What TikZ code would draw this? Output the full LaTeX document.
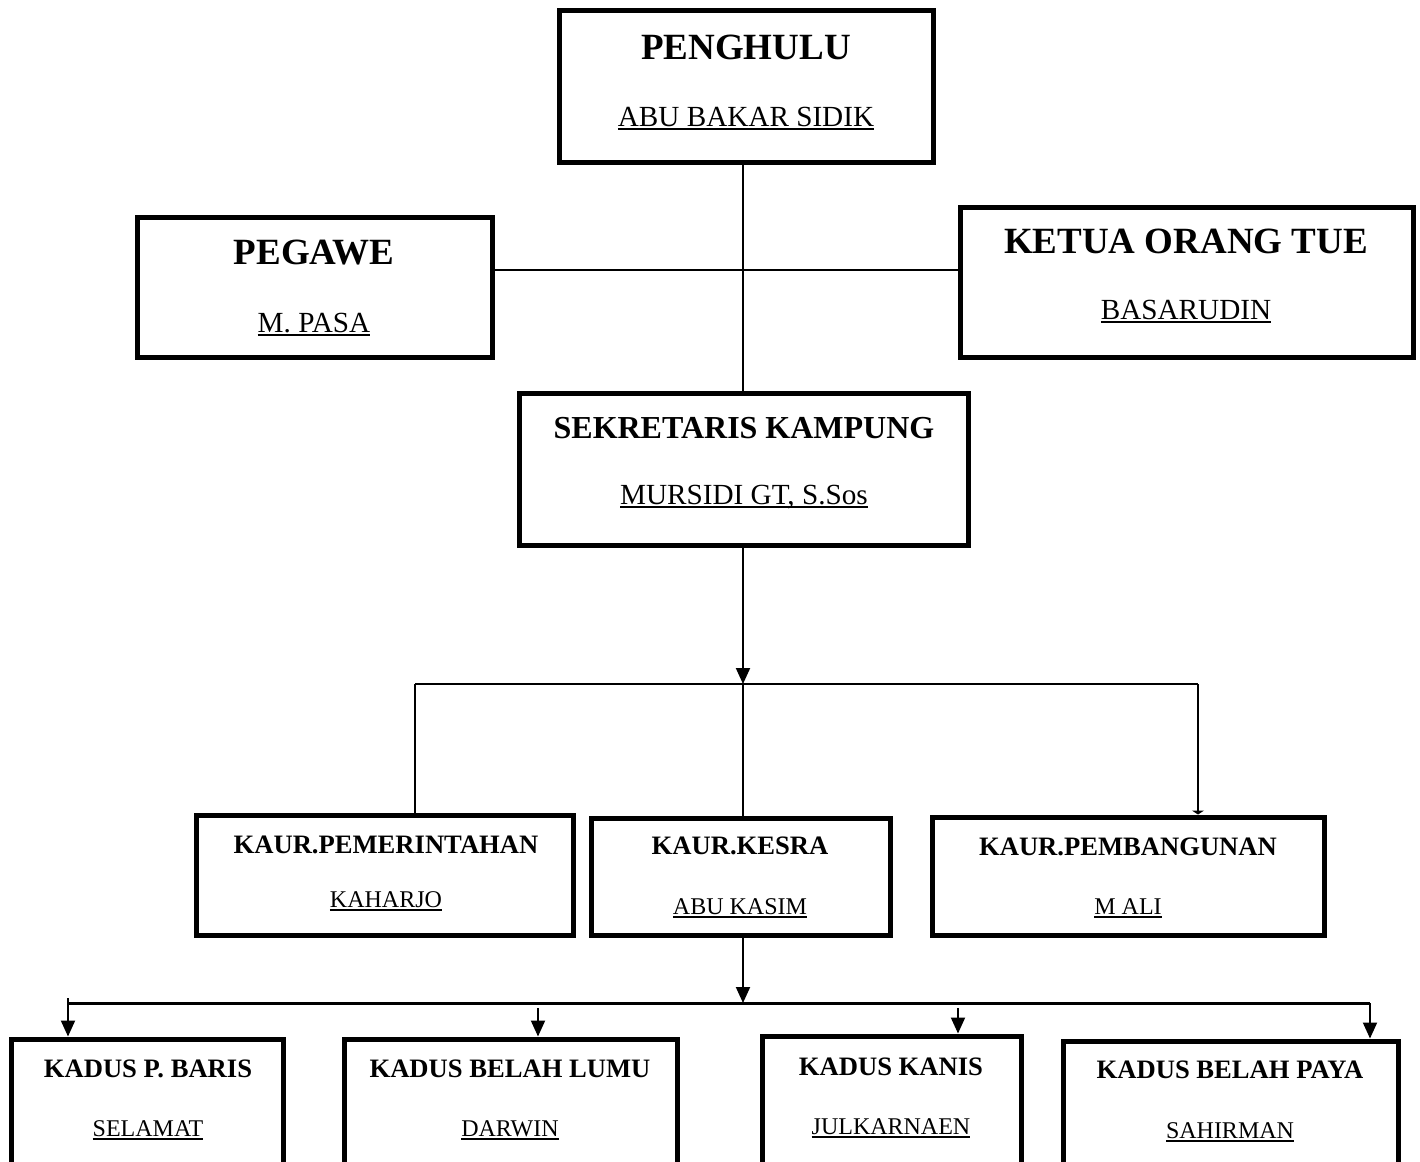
\documentclass[tikz,border=0pt]{standalone}
\usepackage{fontspec}
\setmainfont{Liberation Serif}
\usetikzlibrary{arrows.meta,fit}
\newcommand{\undername}[1]{\setbox0\hbox{#1}\rlap{\rule[-2pt]{\wd0}{1pt}}\box0}

\begin{document}
\begin{tikzpicture}[x=0.5pt,y=-0.5pt,
    unitbox/.style={draw,line width=2.5pt,inner sep=0pt},
    toptitle/.style={anchor=base,inner sep=0pt,font=\fontsize{18.5}{20}\selectfont\bfseries},
    midtitle/.style={anchor=base,inner sep=0pt,font=\fontsize{16}{18}\selectfont\bfseries},
    lowtitle/.style={anchor=base,inner sep=0pt,font=\fontsize{13.3}{15}\selectfont\bfseries},
    topname/.style={anchor=base,inner sep=0pt,font=\fontsize{14.6}{16}\selectfont},
    lowname/.style={anchor=base,inner sep=0pt,font=\fontsize{12}{14}\selectfont},
    link/.style={line width=1pt},
    bus/.style={line width=1.5pt},
    arrowlink/.style={line width=1pt,-{Triangle[length=8pt,width=7pt]}},
    smalltip/.style={line width=1pt,-{Triangle[length=2pt,width=6pt]}}]
    \useasboundingbox (0,0) rectangle (1420,1162);
    \clip (0,0) rectangle (1420,1162);
    % top level
    \node [unitbox,fit={(559,10) (933,162)}] (peng) {};
    \node [toptitle] (peng-t) at (746,59) {PENGHULU};
    \node [topname] (peng-n) at (746,126) {\undername{ABU BAKAR SIDIK}};
    \node [unitbox,fit={(137,217) (492,357)}] (pegawe) {};
    \node [toptitle] (pegawe-t) at (314,264) {PEGAWE};
    \node [topname] (pegawe-n) at (314,332) {\undername{M. PASA}};
    \node [unitbox,fit={(960,207) (1413,357)}] (ketua) {};
    \node [toptitle] (ketua-t) at (1186,253) {KETUA ORANG TUE};
    \node [topname] (ketua-n) at (1186,319) {\undername{BASARUDIN}};
    \node [unitbox,fit={(519,393) (968,545)}] (sekr) {};
    \node [midtitle] (sekr-t) at (744,438) {SEKRETARIS KAMPUNG};
    \node [topname] (sekr-n) at (744,504) {\undername{MURSIDI GT, S.Sos}};
    % kaur
    \node [unitbox,fit={(196,815) (573,935)}] (pemr) {};
    \node [lowtitle] (pemr-t) at (386,853) {KAUR.PEMERINTAHAN};
    \node [lowname] (pemr-n) at (386,907) {\undername{KAHARJO}};
    \node [unitbox,fit={(591,818) (890,935)}] (kesra) {};
    \node [lowtitle] (kesra-t) at (740,854) {KAUR.KESRA};
    \node [lowname] (kesra-n) at (740,914) {\undername{ABU KASIM}};
    \node [unitbox,fit={(932,817) (1324,935)}] (pemb) {};
    \node [lowtitle] (pemb-t) at (1128,855) {KAUR.PEMBANGUNAN};
    \node [lowname] (pemb-n) at (1128,914) {\undername{M ALI}};
    % kadus
    \node [unitbox,fit={(11,1039) (283,1200)}] (baris) {};
    \node [lowtitle] (baris-t) at (148,1077) {KADUS P. BARIS};
    \node [lowname] (baris-n) at (148,1136) {\undername{SELAMAT}};
    \node [unitbox,fit={(344,1039) (677,1200)}] (lumu) {};
    \node [lowtitle] (lumu-t) at (510,1077) {KADUS BELAH LUMU};
    \node [lowname] (lumu-n) at (510,1136) {\undername{DARWIN}};
    \node [unitbox,fit={(762,1036) (1021,1200)}] (kanis) {};
    \node [lowtitle] (kanis-t) at (891,1075) {KADUS KANIS};
    \node [lowname] (kanis-n) at (891,1134) {\undername{JULKARNAEN}};
    \node [unitbox,fit={(1063,1041) (1398,1200)}] (paya) {};
    \node [lowtitle] (paya-t) at (1230,1078) {KADUS BELAH PAYA};
    \node [lowname] (paya-n) at (1230,1138) {\undername{SAHIRMAN}};
    % connectors
    \coordinate (midline) at (743,270);
    \coordinate (kaurbus) at (743,684);
    \coordinate (busL) at (415,684);
    \coordinate (busR) at (1198,684);
    \coordinate (kadusbus) at (743,1003);
    \coordinate (dusL) at (68,1003);
    \coordinate (dusR) at (1370,1003);
    \coordinate (lumutap) at (538,1008);
    \coordinate (kanistap) at (958,1008);
    \draw [link] (midline |- peng.south) -- (midline |- sekr.north);
    \draw [link] (pegawe.east |- midline) -- (ketua.west |- midline);
    \draw [arrowlink] (kaurbus |- sekr.south) -- (kaurbus);
    \draw [link] (busL) -- (busR);
    \draw [link] (busL) -- (busL |- pemr.north);
    \draw [link] (kaurbus) -- (kaurbus |- kesra.north);
    \draw [smalltip] (busR) -- (busR |- pemb.north);
    \draw [arrowlink] (kadusbus |- kesra.south) -- (kadusbus);
    \draw [bus] (dusL) -- (dusR);
    \draw [arrowlink] ([yshift=2.5pt]dusL) -- (dusL |- baris.north);
    \draw [arrowlink] (lumutap) -- (lumutap |- lumu.north);
    \draw [arrowlink] (kanistap) -- (kanistap |- kanis.north);
    \draw [arrowlink] (dusR) -- (dusR |- paya.north);
\end{tikzpicture}
\end{document}
